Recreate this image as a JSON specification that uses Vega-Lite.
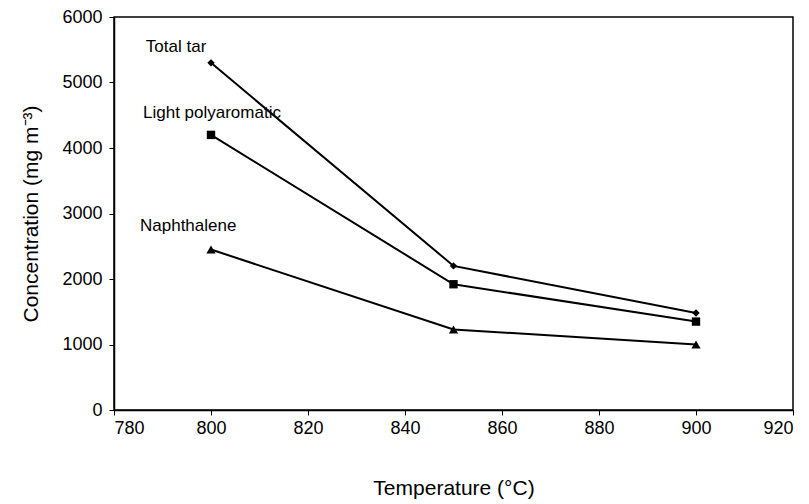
{
  "$schema": "https://vega.github.io/schema/vega-lite/v6.json",
  "autosize": "none",
  "width": 679,
  "height": 393,
  "padding": {"left": 114, "top": 17, "right": 16, "bottom": 94},
  "background": "white",
  "config": {
    "view": {"stroke": "black", "strokeWidth": 1.5},
    "font": "Liberation Sans",
    "axis": {
      "grid": false,
      "domainColor": "black",
      "domainWidth": 1.5,
      "tickColor": "black",
      "tickSize": 5,
      "labelColor": "black",
      "labelFont": "Liberation Sans",
      "labelFontSize": 18,
      "titleFont": "Liberation Sans",
      "titleFontSize": 21,
      "titleFontWeight": "normal",
      "titleColor": "black"
    }
  },
  "datasets": {
    "series": [
      {"series": "Total tar", "temperature": 800, "concentration": 5300},
      {"series": "Total tar", "temperature": 850, "concentration": 2200},
      {"series": "Total tar", "temperature": 900, "concentration": 1480},
      {"series": "Light polyaromatic", "temperature": 800, "concentration": 4200},
      {"series": "Light polyaromatic", "temperature": 850, "concentration": 1920},
      {"series": "Light polyaromatic", "temperature": 900, "concentration": 1350},
      {"series": "Naphthalene", "temperature": 800, "concentration": 2450},
      {"series": "Naphthalene", "temperature": 850, "concentration": 1230},
      {"series": "Naphthalene", "temperature": 900, "concentration": 1000}
    ],
    "labels": [
      {"label": "Total tar", "temperature": 792.8, "concentration": 5540},
      {"label": "Light polyaromatic", "temperature": 800.2, "concentration": 4530},
      {"label": "Naphthalene", "temperature": 795.3, "concentration": 2810}
    ]
  },
  "layer": [
    {
      "data": {"name": "series"},
      "mark": {"type": "line", "color": "black", "strokeWidth": 2},
      "encoding": {
        "x": {
          "field": "temperature", "type": "quantitative",
          "scale": {"domain": [780, 920], "nice": false, "zero": false},
          "axis": {"values": [780, 800, 820, 840, 860, 880, 900, 920], "format": "d", "title": "Temperature (°C)", "titlePadding": 40, "labelPadding": 4}
        },
        "y": {
          "field": "concentration", "type": "quantitative",
          "scale": {"domain": [0, 6000], "nice": false},
          "axis": {"values": [0, 1000, 2000, 3000, 4000, 5000, 6000], "format": "d", "title": "Concentration (mg m⁻³)", "titlePadding": 20, "labelPadding": 7}
        },
        "detail": {"field": "series"}
      }
    },
    {
      "data": {"name": "series"},
      "mark": {"type": "point", "filled": true, "color": "black", "opacity": 1},
      "encoding": {
        "x": {"field": "temperature", "type": "quantitative"},
        "y": {"field": "concentration", "type": "quantitative"},
        "shape": {
          "field": "series", "type": "nominal",
          "scale": {"domain": ["Total tar", "Light polyaromatic", "Naphthalene"], "range": ["diamond", "square", "triangle-up"]},
          "legend": null
        },
        "size": {
          "field": "series", "type": "nominal",
          "scale": {"domain": ["Total tar", "Light polyaromatic", "Naphthalene"], "range": [55, 85, 85]},
          "legend": null
        }
      }
    },
    {
      "data": {"name": "labels"},
      "mark": {"type": "text", "font": "Liberation Sans", "fontSize": 17, "color": "black"},
      "encoding": {
        "x": {"field": "temperature", "type": "quantitative"},
        "y": {"field": "concentration", "type": "quantitative"},
        "text": {"field": "label"}
      }
    }
  ]
}
